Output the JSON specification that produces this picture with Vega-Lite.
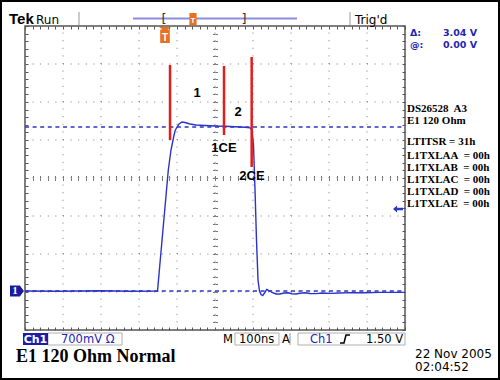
{
  "$schema": "https://vega.github.io/schema/vega-lite/v6.json",
  "width": 380,
  "height": 304,
  "autosize": {"type": "none"},
  "padding": {"left": 25, "top": 26, "right": 95, "bottom": 50},
  "background": "white",
  "config": {
    "view": {"stroke": "#555555", "strokeWidth": 1.5},
    "axis": {"labels": false, "domain": false, "grid": false, "tickColor": "#555555", "tickWidth": 1}
  },
  "resolve": {"axis": {"x": "independent", "y": "independent"}},
  "encoding": {
    "x": {"field": "x", "type": "quantitative", "scale": {"domain": [0, 10], "nice": false, "zero": false}, "axis": null},
    "y": {"field": "y", "type": "quantitative", "scale": {"domain": [0, 8], "nice": false, "zero": false}, "axis": null}
  },
  "layer": [
    {
      "data": {"values": [{"x": -0.658, "x2": 12.5, "y": -1.316, "y2": 8.684}]},
      "mark": {"type": "rect", "filled": false, "stroke": "black", "strokeWidth": 4},
      "encoding": {"x2": {"field": "x2"}, "y2": {"field": "y2"}}
    },
    {
      "data": {"values": [
        {"x": 0.605, "x2": 2.553, "y": -0.079, "y2": -0.395},
        {"x": 5.526, "x2": 6.684, "y": -0.079, "y2": -0.395},
        {"x": 7.184, "x2": 10.0, "y": -0.079, "y2": -0.395}
      ]},
      "mark": {"type": "rect", "fill": "white", "stroke": "#b0b0b0", "strokeWidth": 1},
      "encoding": {"x2": {"field": "x2"}, "y2": {"field": "y2"}}
    },
    {
      "data": {"values": [{"x": -0.053, "x2": 0.605, "y": -0.079, "y2": -0.395}]},
      "mark": {"type": "rect", "fill": "#1c1ca8"},
      "encoding": {"x2": {"field": "x2"}, "y2": {"field": "y2"}}
    },
    {
      "data": {"values": [
        {"x": 1, "x2": 1, "y": 0, "y2": 8}, {"x": 2, "x2": 2, "y": 0, "y2": 8},
        {"x": 3, "x2": 3, "y": 0, "y2": 8}, {"x": 4, "x2": 4, "y": 0, "y2": 8},
        {"x": 5, "x2": 5, "y": 0, "y2": 8}, {"x": 6, "x2": 6, "y": 0, "y2": 8},
        {"x": 7, "x2": 7, "y": 0, "y2": 8}, {"x": 8, "x2": 8, "y": 0, "y2": 8},
        {"x": 9, "x2": 9, "y": 0, "y2": 8},
        {"x": 0, "x2": 10, "y": 1, "y2": 1}, {"x": 0, "x2": 10, "y": 2, "y2": 2},
        {"x": 0, "x2": 10, "y": 3, "y2": 3}, {"x": 0, "x2": 10, "y": 4, "y2": 4},
        {"x": 0, "x2": 10, "y": 5, "y2": 5}, {"x": 0, "x2": 10, "y": 6, "y2": 6},
        {"x": 0, "x2": 10, "y": 7, "y2": 7}
      ]},
      "mark": {"type": "rule", "color": "#7a7a7a", "strokeWidth": 1, "strokeDash": [1, 6.6]},
      "encoding": {
        "x": {"field": "x", "type": "quantitative", "scale": {"domain": [0, 10], "nice": false, "zero": false},
              "axis": {"orient": "bottom", "offset": -152, "tickCount": 50, "tickSize": 2.5, "tickColor": "#777777", "title": null}},
        "y": {"field": "y", "type": "quantitative", "scale": {"domain": [0, 8], "nice": false, "zero": false},
              "axis": {"orient": "left", "offset": -190, "tickCount": 40, "tickSize": 2.5, "tickColor": "#777777", "title": null}},
        "x2": {"field": "x2"}, "y2": {"field": "y2"}
      }
    },
    {
      "data": {"values": [
        {"x": 0, "x2": 10, "y": 5.342, "y2": 5.342},
        {"x": 0, "x2": 10, "y": 1.026, "y2": 1.026}
      ]},
      "mark": {"type": "rule", "color": "#2a36c4", "strokeWidth": 1.3, "strokeDash": [4, 3.6]},
      "encoding": {
        "x": {"field": "x", "type": "quantitative", "scale": {"domain": [0, 10], "nice": false, "zero": false},
              "axis": {"orient": "top", "offset": -152, "tickCount": 50, "tickSize": 2.5, "tickColor": "#777777", "title": null}},
        "y": {"field": "y", "type": "quantitative", "scale": {"domain": [0, 8], "nice": false, "zero": false},
              "axis": {"orient": "right", "offset": -190, "tickCount": 40, "tickSize": 2.5, "tickColor": "#777777", "title": null}},
        "x2": {"field": "x2"}, "y2": {"field": "y2"}
      }
    },
    {
      "data": {"values": [
        {"x": 0, "y": 1.026}, {"x": 0.921, "y": 1.018}, {"x": 1.974, "y": 1.032}, {"x": 2.763, "y": 1.021},
        {"x": 3.487, "y": 1.026}, {"x": 3.771, "y": 4.211}, {"x": 3.842, "y": 4.737}, {"x": 3.895, "y": 5.0},
        {"x": 3.947, "y": 5.237}, {"x": 4.0, "y": 5.342}, {"x": 4.053, "y": 5.421}, {"x": 4.132, "y": 5.474},
        {"x": 4.211, "y": 5.461}, {"x": 4.342, "y": 5.421}, {"x": 4.5, "y": 5.395}, {"x": 4.737, "y": 5.382},
        {"x": 5.0, "y": 5.368}, {"x": 5.263, "y": 5.361}, {"x": 5.526, "y": 5.347}, {"x": 5.789, "y": 5.334},
        {"x": 5.921, "y": 5.321}, {"x": 5.974, "y": 5.263}, {"x": 6.013, "y": 4.868}, {"x": 6.053, "y": 3.684},
        {"x": 6.092, "y": 2.368}, {"x": 6.132, "y": 1.316}, {"x": 6.171, "y": 1.026}, {"x": 6.211, "y": 0.934},
        {"x": 6.255, "y": 0.908}, {"x": 6.303, "y": 0.974}, {"x": 6.361, "y": 1.066}, {"x": 6.421, "y": 1.039},
        {"x": 6.5, "y": 0.987}, {"x": 6.605, "y": 0.947}, {"x": 6.711, "y": 0.947}, {"x": 6.816, "y": 0.974},
        {"x": 6.921, "y": 0.979}, {"x": 7.026, "y": 0.953}, {"x": 7.132, "y": 0.947}, {"x": 7.237, "y": 0.966},
        {"x": 7.368, "y": 0.979}, {"x": 7.5, "y": 0.961}, {"x": 7.658, "y": 0.958}, {"x": 7.816, "y": 0.974},
        {"x": 8.026, "y": 0.963}, {"x": 8.289, "y": 0.974}, {"x": 8.553, "y": 0.984}, {"x": 8.947, "y": 0.979},
        {"x": 9.342, "y": 0.989}, {"x": 10.0, "y": 0.989}
      ]},
      "mark": {"type": "line", "color": "#2b33c8", "strokeWidth": 1.4},
      "encoding": {
        "x": {"field": "x", "type": "quantitative", "scale": {"domain": [0, 10], "nice": false, "zero": false},
              "axis": {"orient": "top", "offset": -304, "tickCount": 50, "tickSize": 3, "title": null}},
        "y": {"field": "y", "type": "quantitative", "scale": {"domain": [0, 8], "nice": false, "zero": false},
              "axis": {"orient": "right", "offset": -380, "tickCount": 40, "tickSize": 3, "title": null}}
      }
    },
    {
      "data": {"values": [
        {"x": 3.816, "x2": 3.816, "y": 5.0, "y2": 6.974},
        {"x": 5.237, "x2": 5.237, "y": 5.132, "y2": 6.947},
        {"x": 5.965, "x2": 5.965, "y": 4.289, "y2": 7.184}
      ]},
      "mark": {"type": "rule", "color": "#e01e1e", "strokeWidth": 2.5},
      "encoding": {
        "x": {"field": "x", "type": "quantitative", "scale": {"domain": [0, 10], "nice": false, "zero": false},
              "axis": {"orient": "bottom", "offset": -304, "tickCount": 50, "tickSize": 3, "title": null}},
        "y": {"field": "y", "type": "quantitative", "scale": {"domain": [0, 8], "nice": false, "zero": false},
              "axis": {"orient": "left", "offset": -380, "tickCount": 40, "tickSize": 3, "title": null}},
        "x2": {"field": "x2"}, "y2": {"field": "y2"}
      }
    },
    {
      "data": {"values": [{"x": 2.842, "x2": 7.158, "y": 8.197, "y2": 8.197}]},
      "mark": {"type": "rule", "color": "#8c8ce0", "strokeWidth": 2},
      "encoding": {"x2": {"field": "x2"}, "y2": {"field": "y2"}}
    },
    {
      "data": {"values": [
        {"x": 1.421, "x2": 1.421, "y": 8.026, "y2": 8.368},
        {"x": 8.553, "x2": 8.553, "y": 8.026, "y2": 8.368},
        {"x": 6.974, "x2": 6.974, "y": -0.079, "y2": -0.395}
      ]},
      "mark": {"type": "rule", "color": "#999999", "strokeWidth": 1},
      "encoding": {"x2": {"field": "x2"}, "y2": {"field": "y2"}}
    },
    {
      "data": {"values": [
        {"x": 4.526, "y": 6.237, "t": "1"},
        {"x": 5.605, "y": 5.737, "t": "2"},
        {"x": 5.237, "y": 4.789, "t": "1CE"},
        {"x": 5.974, "y": 4.053, "t": "2CE"}
      ]},
      "mark": {"type": "text", "font": "Liberation Sans", "fontWeight": "bold", "fontSize": 13, "color": "black", "align": "center", "baseline": "middle"},
      "encoding": {"text": {"field": "t"}}
    },
    {
      "data": {"values": [{"x": -0.421, "y": 8.053, "t": "Tek"}]},
      "mark": {"type": "text", "font": "Liberation Sans", "fontWeight": "bold", "fontSize": 15, "color": "black", "align": "left", "baseline": "alphabetic"},
      "encoding": {"text": {"field": "t"}}
    },
    {
      "data": {"values": [
        {"x": 0.289, "y": 8.053, "t": "Run"},
        {"x": 8.684, "y": 8.053, "t": "Trig'd"}
      ]},
      "mark": {"type": "text", "font": "DejaVu Sans", "fontSize": 12, "color": "black", "align": "left", "baseline": "alphabetic"},
      "encoding": {"text": {"field": "t"}}
    },
    {
      "data": {"values": [
        {"x": 3.658, "y": 8.079, "t": "["},
        {"x": 5.763, "y": 8.079, "t": "]"}
      ]},
      "mark": {"type": "text", "font": "DejaVu Sans", "fontSize": 13, "color": "#333333", "align": "center", "baseline": "alphabetic"},
      "encoding": {"text": {"field": "t"}}
    },
    {
      "data": {"values": [
        {"x": 10.132, "y": 7.724, "t": "Δ:"},
        {"x": 11.0, "y": 7.724, "t": "3.04 V"},
        {"x": 10.132, "y": 7.408, "t": "@:"},
        {"x": 11.0, "y": 7.408, "t": "0.00 V"}
      ]},
      "mark": {"type": "text", "font": "DejaVu Sans", "fontWeight": "bold", "fontSize": 9.5, "color": "#2424b4", "align": "left", "baseline": "alphabetic"},
      "encoding": {"text": {"field": "t"}}
    },
    {
      "data": {"values": [
        {"x": 10.053, "y": 5.737, "t": "DS26528\u00a0 A3"},
        {"x": 10.053, "y": 5.421, "t": "E1 120 Ohm"},
        {"x": 10.053, "y": 4.868, "t": "LTITSR = 31h"},
        {"x": 10.053, "y": 4.5, "t": "L1TXLAA\u00a0 = 00h"},
        {"x": 10.053, "y": 4.184, "t": "L1TXLAB\u00a0 = 00h"},
        {"x": 10.053, "y": 3.868, "t": "L1TXLAC\u00a0 = 00h"},
        {"x": 10.053, "y": 3.553, "t": "L1TXLAD\u00a0 = 00h"},
        {"x": 10.053, "y": 3.237, "t": "L1TXLAE\u00a0 = 00h"}
      ]},
      "mark": {"type": "text", "font": "Liberation Serif", "fontWeight": "bold", "fontSize": 11, "color": "black", "align": "left", "baseline": "alphabetic"},
      "encoding": {"text": {"field": "t"}}
    },
    {
      "data": {"values": [{"x": 0.276, "y": -0.329, "t": "Ch1"}]},
      "mark": {"type": "text", "font": "DejaVu Sans", "fontWeight": "bold", "fontSize": 11, "color": "white", "align": "center", "baseline": "alphabetic"},
      "encoding": {"text": {"field": "t"}}
    },
    {
      "data": {"values": [
        {"x": 0.947, "y": -0.329, "t": "700mV Ω"},
        {"x": 7.5, "y": -0.329, "t": "Ch1"}
      ]},
      "mark": {"type": "text", "font": "DejaVu Sans", "fontSize": 11.5, "color": "#2424b4", "align": "left", "baseline": "alphabetic"},
      "encoding": {"text": {"field": "t"}}
    },
    {
      "data": {"values": [
        {"x": 5.211, "y": -0.329, "t": "M"},
        {"x": 5.632, "y": -0.329, "t": "100ns"},
        {"x": 6.763, "y": -0.329, "t": "A"},
        {"x": 8.974, "y": -0.329, "t": "1.50 V"}
      ]},
      "mark": {"type": "text", "font": "DejaVu Sans", "fontSize": 11.5, "color": "black", "align": "left", "baseline": "alphabetic"},
      "encoding": {"text": {"field": "t"}}
    },
    {
      "data": {"values": [
        {"x": 10.263, "y": -0.737, "t": "22 Nov 2005"},
        {"x": 10.263, "y": -1.079, "t": "02:04:52"}
      ]},
      "mark": {"type": "text", "font": "DejaVu Sans", "fontSize": 12, "color": "black", "align": "left", "baseline": "alphabetic"},
      "encoding": {"text": {"field": "t"}}
    },
    {
      "data": {"values": [{"x": -0.237, "y": -0.842, "t": "E1 120 Ohm Normal"}]},
      "mark": {"type": "text", "font": "Liberation Serif", "fontWeight": "bold", "fontSize": 18, "color": "black", "align": "left", "baseline": "alphabetic"},
      "encoding": {"text": {"field": "t"}}
    },
    {
      "data": {"values": [{"x": -0.211, "y": 1.026}]},
      "mark": {"type": "point", "filled": true, "opacity": 1, "color": "#1a1aa0", "size": 196, "shape": "M-1,-0.8 L0.4,-0.8 L1,0 L0.4,0.8 L-1,0.8 Z"}
    },
    {
      "data": {"values": [{"x": -0.263, "y": 1.026, "t": "1"}]},
      "mark": {"type": "text", "font": "Liberation Serif", "fontWeight": "bold", "fontSize": 11, "color": "white", "align": "center", "baseline": "middle"},
      "encoding": {"text": {"field": "t"}}
    },
    {
      "data": {"values": [{"x": 9.816, "y": 3.184}]},
      "mark": {"type": "point", "filled": true, "opacity": 1, "color": "#2a3ac8", "size": 100, "shape": "M-1,0 L-0.2,-0.7 L-0.2,-0.25 L1,-0.25 L1,0.25 L-0.2,0.25 L-0.2,0.7 Z"}
    },
    {
      "data": {"values": [{"x": 3.684, "y": 7.763}]},
      "mark": {"type": "point", "filled": true, "opacity": 1, "color": "#e8701e", "size": 256, "shape": "M-0.75,-1 L0.75,-1 L0.3,-0.68 L0.6,-0.68 L0.6,1 L-0.6,1 L-0.6,-0.68 L-0.3,-0.68 Z"}
    },
    {
      "data": {"values": [{"x": 4.421, "y": 8.184}]},
      "mark": {"type": "point", "filled": true, "opacity": 1, "color": "#e8701e", "size": 144, "shape": "M-0.6,-1 L0.6,-1 L0.6,1 L-0.6,1 Z"}
    },
    {
      "data": {"values": [
        {"x": 3.684, "y": 7.605, "t": "T"}
      ]},
      "mark": {"type": "text", "font": "Liberation Sans", "fontWeight": "bold", "fontSize": 10, "color": "white", "align": "center", "baseline": "alphabetic"},
      "encoding": {"text": {"field": "t"}}
    },
    {
      "data": {"values": [
        {"x": 4.421, "y": 8.079, "t": "T"}
      ]},
      "mark": {"type": "text", "font": "Liberation Sans", "fontWeight": "bold", "fontSize": 8, "color": "white", "align": "center", "baseline": "alphabetic"},
      "encoding": {"text": {"field": "t"}}
    },
    {
      "data": {"values": [{"x": 8.421, "y": -0.237}]},
      "mark": {"type": "point", "filled": false, "opacity": 1, "color": "black", "strokeWidth": 1.5, "size": 100, "shape": "M-1,0.8 L-0.2,0.8 L0.2,-0.8 L1,-0.8"}
    }
  ]
}
